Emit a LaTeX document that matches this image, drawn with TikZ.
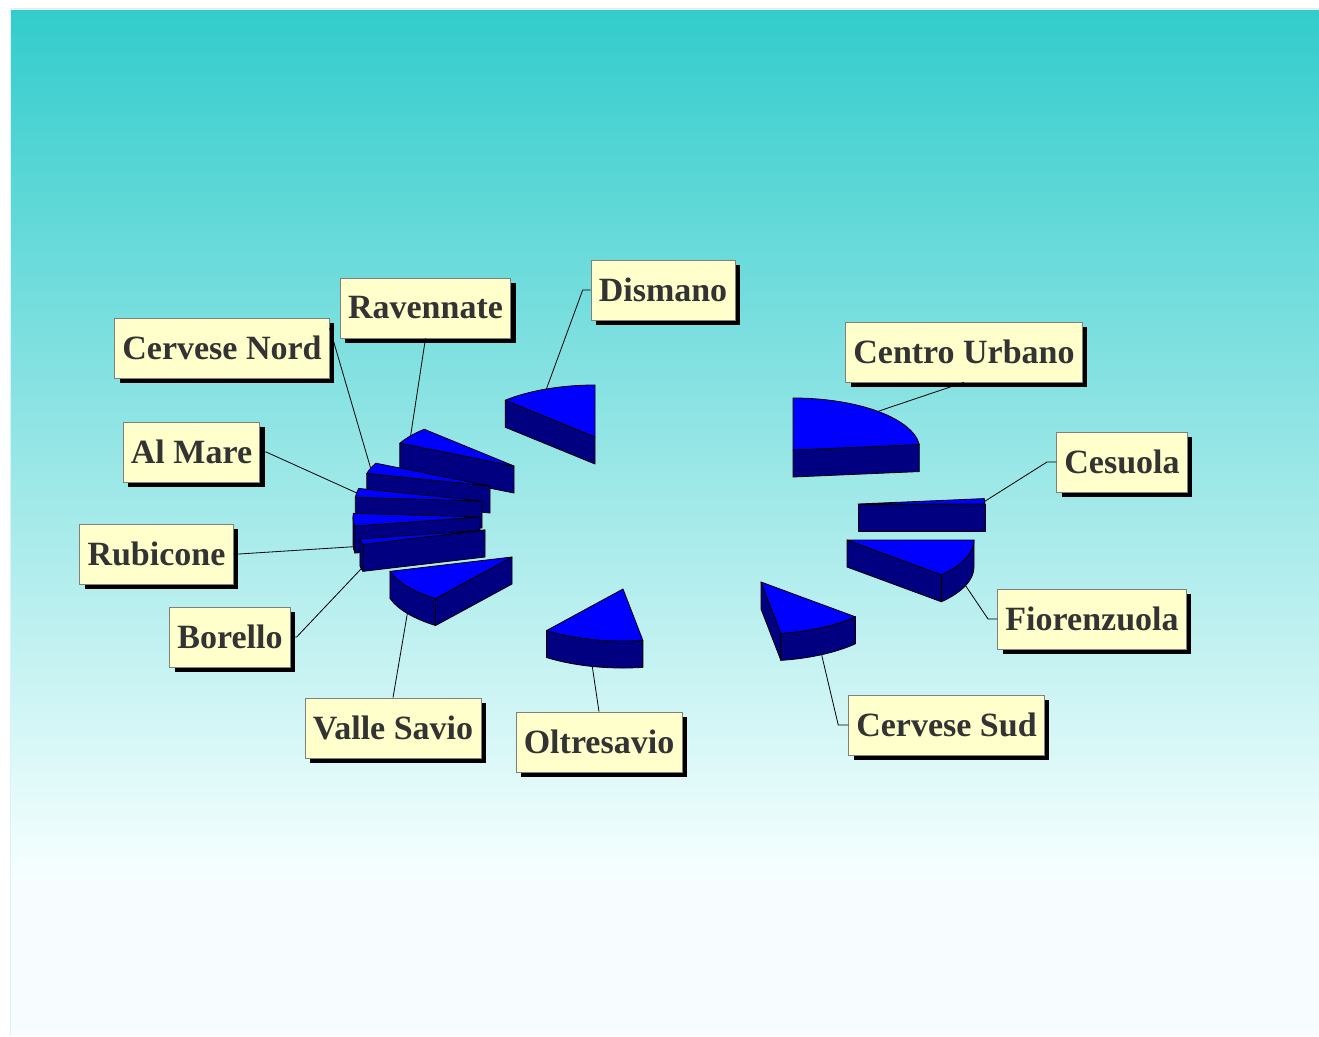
\documentclass[tikz,border=0pt]{standalone}
\usepackage{fontspec}
\setmainfont{Liberation Serif}
\usetikzlibrary{shadows}
\definecolor{bgtop}{RGB}{51,204,204}
\definecolor{topblue}{RGB}{0,0,255}
\definecolor{sideblue}{RGB}{0,0,128}
\definecolor{labelfill}{RGB}{255,255,204}
\definecolor{labeltext}{RGB}{51,51,51}
\newcommand{\pierx}{95.25pt}
\newcommand{\piery}{39pt}
\tikzset{
    topface/.style={fill=topblue,draw=black,line width=0.6pt,line join=round},
    sideface/.style={fill=sideblue,draw=black,line width=0.6pt,line join=round},
    leader/.style={draw=black,line width=0.6pt},
    labelbox/.style={fill=labelfill,draw=gray,line width=0.5pt,text=labeltext,
        font=\bfseries\fontsize{25.5}{30}\selectfont,minimum height=45pt,inner xsep=5.8pt,
        drop shadow={shadow xshift=3.75pt,shadow yshift=-3.75pt,fill=black,opacity=1}}
}
\begin{document}
\begin{tikzpicture}[x=0.75pt,y=-0.75pt]
        \useasboundingbox (0,0) rectangle (1319,1036);
        \fill[white!97!cyan] (11,880) rectangle (1319,1036);
        \shade[top color=bgtop,bottom color=white!97!cyan] (11,10) rectangle (1319,880.5);
        \draw[cyan!15,line width=0.75pt] (10,1036)--(10,8)--(1319,8);
        % slices, back to front: name/apex x/apex y/start/end
        \foreach \nm/\ax/\ay/\ta/\tb in {Dismano/595/437/90/135,CentroUrbano/793/450/6/90,Ravennate/514/466/135/154,CerveseNord/490/486/154/166,AlMare/482/501/166/176,Cesuola/858/504/0/6,Rubicone/480/517/176/190,Borello/485/530/190/196,Fiorenzuola/847/540/318/360,ValleSavio/512/557/196/233,CerveseSud/761/582/279/318,Oltresavio/623/589/233/279}
            {
                \pgfmathtruncatemacro{\showa}{cos(\ta)>0.001}
                \pgfmathtruncatemacro{\showb}{cos(\tb)<-0.001}
                \pgfmathsetmacro{\ca}{max(\ta,180)}
                \pgfmathsetmacro{\cb}{min(\tb,360)}
                \pgfmathtruncatemacro{\showc}{\ca<\cb}
                \ifnum\showa=1
                    \draw[sideface](\ax,\ay)--([shift={(\ta:95.25pt and 39pt)}]\ax,\ay)--++(0,27)--(\ax,\ay+27)--cycle;
                \fi
                \ifnum\showb=1
                    \draw[sideface](\ax,\ay)--([shift={(\tb:95.25pt and 39pt)}]\ax,\ay)--++(0,27)--(\ax,\ay+27)--cycle;
                \fi
                \ifnum\showc=1
                    \draw[sideface]([shift={(\ca:95.25pt and 39pt)}]\ax,\ay)arc[start angle=\ca,end angle=\cb,x radius=\pierx,y radius=\piery]--++(0,27)arc[start angle=\cb,end angle=\ca,x radius=\pierx,y radius=\piery]--cycle;
                \fi
                \draw[topface](\ax,\ay)--([shift={(\ta:95.25pt and 39pt)}]\ax,\ay)arc[start angle=\ta,end angle=\tb,x radius=\pierx,y radius=\piery]--cycle;
                \pgfmathsetmacro{\tm}{(\ta+\tb)/2}
                \pgfmathsetmacro{\dh}{sin(\tm)<0?27:0}
                \coordinate (p\nm) at ([shift={(\tm:95.25pt and 39pt)}]\ax,\ay+\dh);
            }
        \node[labelbox] (lblDismano) at (663,290) {Dismano};
        \node[labelbox] (lblRavennate) at (425.5,308) {Ravennate};
        \node[labelbox] (lblCerveseNord) at (222,348) {Cervese Nord};
        \node[labelbox] (lblCentroUrbano) at (964,352) {Centro Urbano};
        \node[labelbox] (lblAlMare) at (191.5,452) {Al Mare};
        \node[labelbox] (lblCesuola) at (1122,462) {Cesuola};
        \node[labelbox] (lblRubicone) at (156.5,554) {Rubicone};
        \node[labelbox] (lblFiorenzuola) at (1092,619) {Fiorenzuola};
        \node[labelbox] (lblBorello) at (230,637) {Borello};
        \node[labelbox] (lblValleSavio) at (393,728) {Valle Savio};
        \node[labelbox] (lblOltresavio) at (599,742) {Oltresavio};
        \node[labelbox] (lblCerveseSud) at (946.5,725) {Cervese Sud};
        \draw[leader](pDismano)--([xshift=-6pt]lblDismano.west)--(lblDismano.west);
        \draw[leader](pRavennate)--(lblRavennate.south);
        \draw[leader](pCerveseNord)--([yshift=15pt]lblCerveseNord.east);
        \draw[leader](pAlMare)--([xshift=4.5pt]lblAlMare.east)--(lblAlMare.east);
        \draw[leader](pRubicone)--([xshift=4pt]lblRubicone.east)--(lblRubicone.east);
        \draw[leader](pBorello)--([xshift=4.5pt]lblBorello.east)--(lblBorello.east);
        \draw[leader](pValleSavio)--(lblValleSavio.north);
        \draw[leader](pOltresavio)--(lblOltresavio.north);
        \draw[leader](pCerveseSud)--([xshift=-7.5pt]lblCerveseSud.west)--(lblCerveseSud.west);
        \draw[leader](pFiorenzuola)--([xshift=-7pt]lblFiorenzuola.west)--(lblFiorenzuola.west);
        \draw[leader](pCesuola)--([xshift=-7pt]lblCesuola.west)--(lblCesuola.west);
        \draw[leader](pCentroUrbano)--(lblCentroUrbano.south);
    \end{tikzpicture}
\end{document}
